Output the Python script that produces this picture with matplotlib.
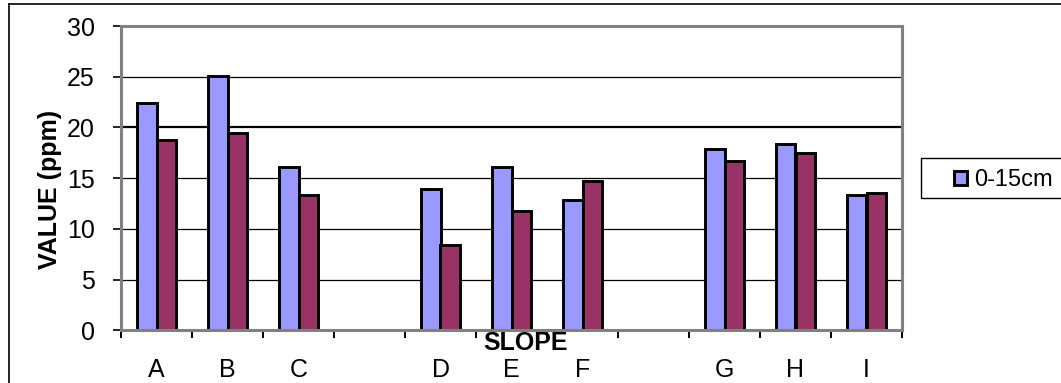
import numpy as np
import matplotlib
matplotlib.use("Agg")
import matplotlib.pyplot as plt
from matplotlib.patches import Rectangle, Patch
from matplotlib.lines import Line2D

plt.rcParams['font.family'] = ['Liberation Sans', 'DejaVu Sans']

# slope positions (blank slots separate the groups)
slopes = ['A', 'B', 'C', '', 'D', 'E', 'F', '', 'G', 'H', 'I']
depth_0_15 = [22.4, 25.1, 16.1, np.nan, 13.9, 16.1, 12.85, np.nan, 17.9, 18.4, 13.3]
depth_15_30 = [18.8, 19.45, 13.3, np.nan, 8.4, 11.8, 14.7, np.nan, 16.7, 17.45, 13.55]
legend_label = '0-15cm'

W, H = 1061, 383
fig = plt.figure(figsize=(W/100, H/100), dpi=100)
ax = fig.add_axes([121/W, 1-330.3/H, (902-121)/W, (330.3-26)/H])

x = np.arange(len(slopes))
bw = 0.28
ax.bar(x - bw/2, depth_0_15, bw, color='#9999FF', edgecolor='black', linewidth=2.1, zorder=3)
ax.bar(x + bw/2, depth_15_30, bw, color='#993366', edgecolor='black', linewidth=2.1, zorder=3)

ax.set_xlim(-0.5, len(slopes) - 0.5)
ax.set_ylim(0, 30)
ax.set_yticks(np.arange(0, 31, 5))
for v in range(5, 30, 5):
    ax.axhline(v, color='black', lw=1.6 if v == 20 else 0.9, zorder=1)

ax.set_xticks(x)
ax.set_xticklabels(slopes, fontsize=18)
ax.set_xticks(np.arange(-0.5, len(slopes)), minor=True)
ax.tick_params(axis='x', which='major', length=0, pad=20)
ax.tick_params(axis='x', which='minor', length=6, width=1.4, color='black', direction='out')
ax.tick_params(axis='y', labelsize=18, length=6, width=1.2, color='black', pad=13)

for s in ax.spines.values():
    s.set_color('#808080')
    s.set_linewidth(2.2)
    s.set_zorder(4)

fig.text(50/W, 1-189.5/H, 'VALUE (ppm)', rotation=90, fontsize=18, fontweight='bold',
         ha='center', va='center')
fig.text(526/W, 1-342.5/H, 'SLOPE', fontsize=18, fontweight='bold', ha='center', va='center')

# legend frame (runs off the right edge as in the original)
fig.patches.append(Rectangle((921/W, 1-198/H), 160/W, 40/H, transform=fig.transFigure,
                             facecolor='white', edgecolor='black', lw=1.0))
handle = Patch(facecolor='#9999FF', edgecolor='black', linewidth=2.1)
fig.legend([handle], [legend_label], loc='center left', bbox_to_anchor=(954/W, 1-180/H),
           frameon=False, fontsize=17, handlelength=0.55, handleheight=0.55, handletextpad=0.3,
           borderpad=0, borderaxespad=0)

# outer chart border
fig.add_artist(Line2D([9/W, 1], [1-4/H, 1-4/H], color='black', lw=1.2, transform=fig.transFigure))
fig.add_artist(Line2D([9/W, 9/W], [0, 1-4/H], color='black', lw=1.2, transform=fig.transFigure))

fig.savefig('out.png', dpi=100)
